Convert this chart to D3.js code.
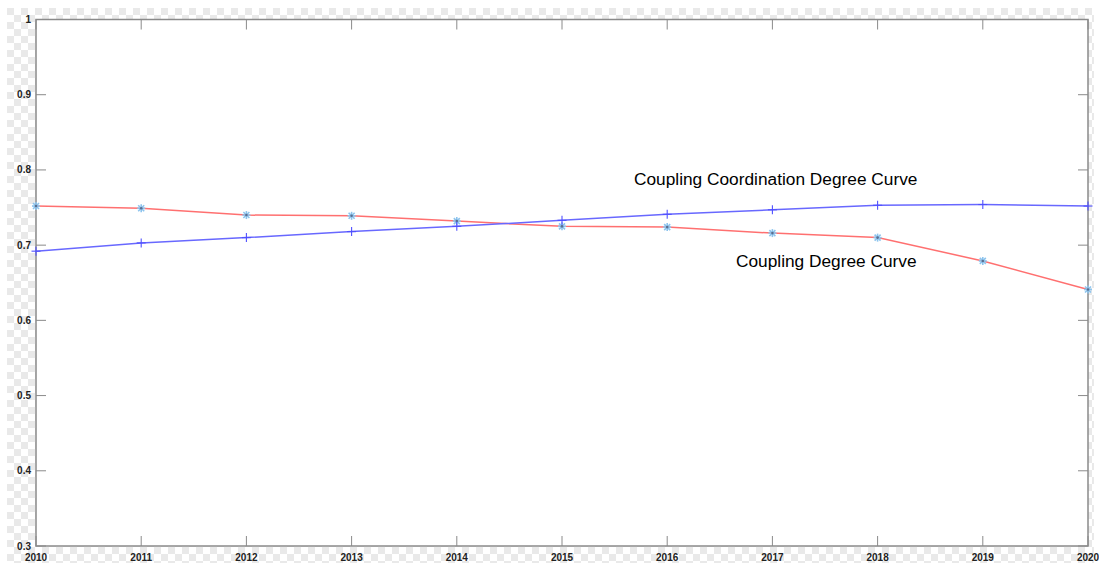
<!DOCTYPE html>
<html><head><meta charset="utf-8">
<script src="https://cdn.jsdelivr.net/npm/d3@7"></script>
<style>body{margin:0;background:#fff}svg{display:block}</style>
</head><body>
<svg id="c" width="1099" height="563"></svg>
<script>
const years = [2010,2011,2012,2013,2014,2015,2016,2017,2018,2019,2020];
const couplingDegree = [0.752,0.749,0.740,0.739,0.732,0.725,0.724,0.716,0.710,0.679,0.641];
const coordinationDegree = [0.692,0.703,0.710,0.718,0.725,0.733,0.741,0.747,0.753,0.754,0.752];
const yTicks = [0.3,0.4,0.5,0.6,0.7,0.8,0.9,1];
const yTickLabels = ["0.3","0.4","0.5","0.6","0.7","0.8","0.9","1"];
const labelCoordination = "Coupling Coordination Degree Curve";
const labelCoupling = "Coupling Degree Curve";

const svg = d3.select("#c");
const L=36, R=1088, T=19.5, B=546;
const x = d3.scaleLinear().domain([2010,2020]).range([L,R]);
const y = d3.scaleLinear().domain([0.3,1]).range([B,T]);

// checkerboard background
const defs = svg.append("defs");
const pat = defs.append("pattern").attr("id","chk").attr("patternUnits","userSpaceOnUse")
  .attr("width",14).attr("height",14).attr("x",7).attr("y",8);
pat.append("rect").attr("width",14).attr("height",14).attr("fill","#ffffff");
pat.append("rect").attr("width",7).attr("height",7).attr("fill","#e9e9e9");
pat.append("rect").attr("x",7).attr("y",7).attr("width",7).attr("height",7).attr("fill","#e9e9e9");
svg.append("rect").attr("x",7).attr("y",8).attr("width",1087).attr("height",555).attr("fill","url(#chk)");
svg.append("rect").attr("x",L).attr("y",T).attr("width",R-L).attr("height",B-T).attr("fill","#fff");

const axisColor="#8a8a8a";
const tickLen=10;
svg.append("rect").attr("x",L).attr("y",T).attr("width",R-L).attr("height",B-T)
  .attr("fill","none").attr("stroke",axisColor).attr("stroke-width",1.5);

const g = svg.append("g");
years.forEach(yr=>{
  g.append("line").attr("x1",x(yr)).attr("x2",x(yr)).attr("y1",B).attr("y2",B-tickLen).attr("stroke",axisColor);
  g.append("line").attr("x1",x(yr)).attr("x2",x(yr)).attr("y1",T).attr("y2",T+tickLen).attr("stroke",axisColor);
  g.append("text").attr("x",x(yr)).attr("y",561).attr("text-anchor","middle")
   .attr("font-family","Liberation Sans, Arial, sans-serif").attr("font-weight","bold").attr("font-size",10)
   .attr("fill","#222").text(yr);
});
yTicks.forEach((t,i)=>{
  g.append("line").attr("x1",L).attr("x2",L+tickLen).attr("y1",y(t)).attr("y2",y(t)).attr("stroke",axisColor);
  g.append("line").attr("x1",R).attr("x2",R-tickLen).attr("y1",y(t)).attr("y2",y(t)).attr("stroke",axisColor);
  g.append("text").attr("x",31).attr("y",y(t)+3.5).attr("text-anchor","end")
   .attr("font-family","Liberation Sans, Arial, sans-serif").attr("font-weight","bold").attr("font-size",10)
   .attr("fill","#222").text(yTickLabels[i]);
});

const line = d3.line().x((d,i)=>x(years[i])).y(d=>y(d));
svg.append("path").datum(couplingDegree).attr("d",line).attr("fill","none")
  .attr("stroke","#ff7070").attr("stroke-width",1.5);
svg.append("path").datum(coordinationDegree).attr("d",line).attr("fill","none")
  .attr("stroke","#6868ff").attr("stroke-width",1.5);

couplingDegree.forEach((v,i)=>{
  const cx=x(years[i]), cy=y(v), r=4;
  const m=svg.append("g").attr("stroke","#8cc4ee").attr("stroke-width",1.6);
  [[-r,0,r,0],[0,-r,0,r],[-r*0.75,-r*0.75,r*0.75,r*0.75],[-r*0.75,r*0.75,r*0.75,-r*0.75]].forEach(s=>{
    m.append("line").attr("x1",cx+s[0]).attr("y1",cy+s[1]).attr("x2",cx+s[2]).attr("y2",cy+s[3]);
  });
  svg.append("circle").attr("cx",cx).attr("cy",cy).attr("r",1.3).attr("fill","#5a6e90");
});
coordinationDegree.forEach((v,i)=>{
  const cx=x(years[i]), cy=y(v), r=4.5;
  const m=svg.append("g").attr("stroke","#5050ff").attr("stroke-width",1.1);
  m.append("line").attr("x1",cx-r).attr("x2",cx+r).attr("y1",cy).attr("y2",cy);
  m.append("line").attr("x1",cx).attr("x2",cx).attr("y1",cy-r).attr("y2",cy+r);
});

svg.append("text").attr("x",634).attr("y",185).attr("font-family","Liberation Sans, Arial, sans-serif")
  .attr("font-size",17.3).attr("fill","#000").text(labelCoordination);
svg.append("text").attr("x",736).attr("y",267).attr("font-family","Liberation Sans, Arial, sans-serif")
  .attr("font-size",17.3).attr("fill","#000").text(labelCoupling);
</script>
</body></html>
